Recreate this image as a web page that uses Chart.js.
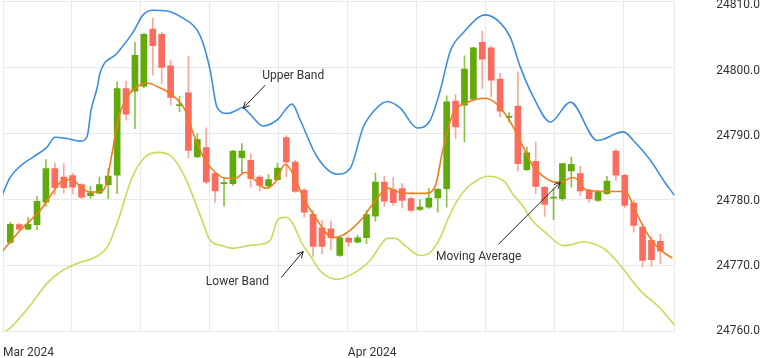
<!DOCTYPE html>
<html><head><meta charset="utf-8">
<style>html,body{margin:0;padding:0;background:#fff;}#wrap{width:764px;height:358px;}</style>
<script src="https://cdn.jsdelivr.net/npm/chart.js@4.4.1/dist/chart.umd.min.js"></script>
</head><body><div id="wrap"><canvas id="c" width="764" height="358"></canvas></div>
<script>
// ---- candle data (one entry per candle, in order) ----
const openP = [24773.48,24776.17,24775.50,24776.17,24779.59,24784.65,24783.38,24783.59,24782.23,24780.56,
24780.95,24782.23,24783.64,24796.77,24796.36,24797.12,24805.76,24804.95,24800.20,24794.17,
24796.11,24786.41,24787.83,24783.89,24782.39,24782.38,24786.32,24785.91,24783.38,24782.02,
24782.98,24789.35,24785.65,24781.36,24777.73,24775.71,24775.56,24771.52,24774.14,24773.53,
24774.20,24777.47,24782.62,24781.47,24781.62,24780.11,24778.48,24778.83,24780.20,24781.62,
24794.85,24794.24,24795.15,24803.74,24802.92,24798.18,24792.39,24794.09,24784.50,24785.76,
24781.82,24780.18,24780.11,24784.29,24783.89,24781.36,24779.85,24780.86,24787.32,24783.64,
24779.44,24775.80,24773.79,24773.64];
const highP = [24776.52,24776.36,24777.23,24780.45,24786.02,24785.50,24785.41,24783.98,24782.38,24781.97,
24783.38,24784.65,24797.77,24797.88,24803.79,24805.15,24807.42,24805.26,24801.06,24795.61,
24801.67,24789.95,24790.80,24784.09,24783.38,24787.42,24788.44,24786.92,24783.64,24783.74,
24785.50,24789.65,24785.91,24781.67,24778.33,24776.82,24776.71,24774.39,24774.32,24774.55,
24778.33,24783.98,24783.48,24783.38,24782.38,24780.30,24779.95,24781.62,24781.67,24795.65,
24795.86,24801.71,24803.03,24805.45,24803.23,24799.05,24793.14,24799.29,24787.92,24788.68,
24781.97,24781.62,24785.45,24786.41,24785.00,24781.52,24781.36,24783.48,24787.58,24783.79,
24779.85,24776.32,24774.29,24774.70];
const lowP = [24773.33,24775.30,24775.41,24775.41,24778.94,24780.76,24780.95,24780.86,24780.11,24780.15,
24780.83,24780.11,24780.86,24791.97,24790.71,24796.86,24798.79,24797.53,24794.24,24793.23,
24786.32,24786.29,24782.38,24779.55,24778.98,24782.12,24783.89,24781.86,24781.26,24781.62,
24782.88,24783.38,24781.06,24777.32,24771.36,24771.77,24772.38,24771.36,24772.88,24773.41,
24773.29,24776.71,24778.94,24779.09,24778.74,24778.08,24778.33,24778.64,24778.08,24778.83,
24789.20,24788.68,24795.00,24796.77,24795.50,24792.47,24791.71,24784.29,24784.39,24780.86,
24777.42,24776.92,24779.85,24781.86,24780.61,24779.59,24779.70,24780.76,24782.88,24778.79,
24775.05,24769.74,24769.85,24770.26];
const closeP = [24776.21,24775.50,24776.21,24779.70,24784.65,24781.77,24781.77,24781.86,24780.35,24780.95,
24782.23,24783.53,24796.77,24792.88,24801.77,24804.95,24803.23,24799.95,24795.41,24794.32,
24787.42,24789.05,24782.62,24781.26,24782.55,24787.32,24787.32,24783.14,24782.12,24782.98,
24784.74,24785.65,24781.21,24778.08,24772.88,24772.88,24774.20,24774.20,24773.53,24774.20,
24777.68,24782.62,24779.74,24779.50,24779.85,24778.33,24778.83,24780.20,24781.52,24794.74,
24790.95,24799.70,24802.92,24801.21,24798.03,24793.33,24792.55,24785.41,24787.02,24781.97,
24779.24,24780.33,24785.41,24785.30,24781.26,24780.11,24781.11,24782.77,24783.64,24779.09,
24776.06,24770.76,24770.86,24772.17];

// ---- band / moving-average curves (x in candle-index units) ----
const upperX = [-0.93,-0.03,1.09,2.55,4.12,5.02,6.37,7.83,8.62,9.07,9.74,10.08,11.99,13.79,14.91,16.03,17.61,19.40,20.98,21.65,22.44,23.22,24.35,25.47,26.03,26.71,28.39,29.96,31.65,32.55,34.46,36.71,38.17,39.63,41.21,42.33,43.79,45.70,47.16,48.28,49.40,50.87,53.34,55.02,56.15,57.27,58.73,60.64,62.89,65.92,68.84,69.97,71.88,73.34,74.57];
const upperY = [24780.6,24783.3,24785.0,24786.4,24787.9,24789.4,24789.2,24788.8,24789.5,24793.5,24796.8,24799.1,24802.1,24805.3,24807.9,24808.6,24808.5,24807.4,24805.6,24803.6,24799.5,24793.9,24793.0,24793.5,24793.9,24793.2,24791.1,24792.0,24794.4,24792.0,24786.4,24783.8,24784.7,24790.9,24793.9,24794.8,24793.8,24790.8,24792.0,24796.5,24802.4,24805.2,24807.9,24806.7,24804.5,24800.0,24795.5,24791.7,24794.7,24788.9,24790.2,24788.9,24785.9,24782.9,24780.6];
const maX = [-0.93,1.09,3.34,4.80,5.92,6.93,7.83,8.96,10.08,10.64,11.43,12.10,12.89,14.01,15.36,16.60,18.17,19.63,20.53,21.88,23.00,24.12,25.25,26.37,27.49,28.62,29.74,30.87,31.99,32.89,34.24,36.26,37.61,39.52,40.98,42.44,43.56,44.69,46.60,47.72,48.51,49.63,51.43,53.34,54.80,56.37,57.49,58.62,59.74,61.20,61.76,63.11,63.79,64.57,66.82,68.73,69.29,70.19,71.31,72.78,74.35];
const maY = [24772.1,24775.3,24778.3,24781.1,24782.9,24783.0,24782.0,24781.1,24781.2,24781.8,24787.0,24792.0,24795.0,24796.8,24797.6,24797.0,24795.8,24793.5,24790.0,24785.9,24784.1,24783.2,24783.2,24784.1,24782.9,24781.7,24782.6,24785.3,24783.2,24780.3,24777.3,24774.2,24774.8,24777.1,24779.8,24781.7,24781.1,24780.9,24780.9,24782.0,24787.1,24792.7,24794.7,24795.3,24794.2,24791.2,24788.2,24785.2,24783.6,24782.6,24782.6,24783.3,24782.9,24781.5,24781.2,24781.2,24780.9,24778.3,24775.3,24772.6,24771.1];
const lowerX = [-0.82,0.19,2.21,4.12,5.81,7.49,9.74,10.98,12.10,13.67,15.13,16.60,18.17,19.63,21.54,22.44,23.79,25.02,26.71,28.06,29.18,30.08,30.97,31.65,32.77,33.67,34.79,36.71,38.51,40.42,41.54,42.33,43.22,44.35,46.03,47.16,48.28,49.07,50.19,51.31,52.44,53.57,54.69,55.58,56.37,57.49,58.62,60.08,62.10,63.22,64.35,65.47,66.82,68.51,70.75,73.00,74.80];
const lowerY = [24759.7,24760.8,24763.9,24767.3,24769.2,24770.3,24771.4,24773.0,24776.8,24783.3,24786.4,24787.1,24786.4,24783.3,24776.8,24773.8,24773.0,24772.6,24773.0,24773.2,24773.8,24777.0,24777.3,24776.5,24773.3,24771.5,24769.2,24767.9,24768.8,24770.8,24773.0,24774.1,24774.1,24773.0,24771.5,24772.0,24774.2,24776.8,24779.8,24781.8,24782.9,24783.5,24783.3,24782.6,24780.9,24779.1,24776.8,24775.0,24773.0,24773.2,24773.6,24773.3,24772.4,24770.0,24766.2,24763.5,24760.6];

// ---- axes ----
const yMin = 24760, yMax = 24810, yStep = 10;
const yLabelMin = 24759.89, yLabelMax = 24810.69;   // label column is spaced slightly tighter than the grid
const xMin = -0.82, xMax = 74.57, xGridStep = 7.744;
const xTickLabels = ['Mar 2024','','','','','Apr 2024','','','','',''];

// ---- annotations (data coordinates) ----
const noteLabels = ['Upper Band','Lower Band','Moving Average'];
const noteX = [28.28, 21.96, 47.80];
const noteY = [24798.64, 24767.47, 24771.26];
const arrowFromX = [28.62, 30.42, 54.80];
const arrowFromY = [24797.27, 24768.18, 24773.18];
const arrowToX = [26.15, 32.89, 61.76];
const arrowToY = [24793.79, 24772.12, 24782.58];

const UP = '#62aa0a', DOWN = '#fb6c5e', UPW = '#8cc24a', DOWNW = '#f9a69c';
const isUp = i => closeP[i] >= openP[i];

const wickData = highP.map((h, i) => ({x: i, y: [lowP[i], h]}));
const bodyData = openP.map((o, i) => ({x: i, y: [o, closeP[i]]}));
const pts = (xs, ys) => xs.map((v, i) => ({x: v, y: ys[i]}));

const notePlugin = {
  id: 'notes',
  afterDatasetsDraw(chart) {
    const {ctx, scales: {x, y}} = chart;
    ctx.save();
    ctx.font = '12px Roboto';
    ctx.fillStyle = '#333';
    ctx.textBaseline = 'middle';
    ctx.textAlign = 'left';
    ctx.strokeStyle = '#222';
    ctx.lineWidth = 1;
    noteLabels.forEach((t, i) => {
      ctx.fillText(t, x.getPixelForValue(noteX[i]), y.getPixelForValue(noteY[i]));
      const x0 = x.getPixelForValue(arrowFromX[i]), y0 = y.getPixelForValue(arrowFromY[i]);
      const x1 = x.getPixelForValue(arrowToX[i]), y1 = y.getPixelForValue(arrowToY[i]);
      ctx.beginPath(); ctx.moveTo(x0, y0); ctx.lineTo(x1, y1); ctx.stroke();
      const a = Math.atan2(y1 - y0, x1 - x0), L = 7, w = 0.45;
      ctx.beginPath();
      ctx.moveTo(x1 - L * Math.cos(a - w), y1 - L * Math.sin(a - w));
      ctx.lineTo(x1, y1);
      ctx.lineTo(x1 - L * Math.cos(a + w), y1 - L * Math.sin(a + w));
      ctx.stroke();
    });
    ctx.restore();
  }
};

const gridColor = '#e9e9e9';
const clear = 'rgba(0,0,0,0)';
new Chart(document.getElementById('c'), {
  type: 'bar',
  data: {
    datasets: [
      {type: 'line', label: 'Upper Band', data: pts(upperX, upperY), borderColor: '#3d8ede', borderWidth: 1.6, pointRadius: 0, cubicInterpolationMode: 'monotone', fill: false, order: 1},
      {type: 'line', label: 'Moving Average', data: pts(maX, maY), borderColor: '#f07c1c', borderWidth: 1.6, pointRadius: 0, cubicInterpolationMode: 'monotone', fill: false, order: 1},
      {type: 'line', label: 'Lower Band', data: pts(lowerX, lowerY), borderColor: '#c6dc58', borderWidth: 1.6, pointRadius: 0, cubicInterpolationMode: 'monotone', fill: false, order: 1},
      {type: 'bar', label: 'body', data: bodyData, barThickness: 6, grouped: false, borderWidth: 0,
        backgroundColor: c => isUp(c.dataIndex) ? UP : DOWN, order: 2},
      {type: 'bar', label: 'wick', data: wickData, barThickness: 1, grouped: false, borderWidth: 0,
        backgroundColor: c => isUp(c.dataIndex) ? UPW : DOWNW, order: 3}
    ]
  },
  options: {
    responsive: false,
    animation: false,
    devicePixelRatio: 1,
    layout: {padding: {left: 3, top: 1, right: 4, bottom: -2}},
    plugins: {legend: {display: false}, tooltip: {enabled: false}},
    scales: {
      x: {
        type: 'linear', min: xMin, max: xMax, offset: false,
        afterBuildTicks: s => {
          const t = [];
          for (let v = xMin; v < xMax - 0.5; v += xGridStep) t.push({value: v});
          t.push({value: xMax});
          s.ticks = t;
        },
        grid: {color: gridColor, offset: false, drawTicks: true, tickLength: 14, tickColor: clear},
        border: {color: gridColor},
        ticks: {autoSkip: false, maxRotation: 0, align: 'start', padding: 0, color: '#333',
          font: {family: 'Roboto', size: 12},
          callback: (v, i) => xTickLabels[i] || ''}
      },
      y: {
        type: 'linear', position: 'right', min: yMin, max: yMax, weight: 0,
        grid: {color: gridColor, drawTicks: false},
        border: {color: gridColor},
        ticks: {stepSize: yStep, display: false}
      },
      yLabels: {
        type: 'linear', position: 'right', min: yLabelMin, max: yLabelMax, weight: 1,
        afterBuildTicks: s => {
          s.ticks = s.ticks.filter(t => Math.abs(t.value / yStep - Math.round(t.value / yStep)) < 1e-6);
        },
        grid: {color: clear, drawTicks: true, tickLength: 42, tickColor: clear},
        border: {display: false},
        ticks: {stepSize: yStep, padding: 0, color: '#333',
          font: {family: 'Roboto', size: 12, lineHeight: 0.05},
          callback: v => Number(v).toFixed(1)}
      }
    }
  },
  plugins: [notePlugin]
});
</script></body></html>
